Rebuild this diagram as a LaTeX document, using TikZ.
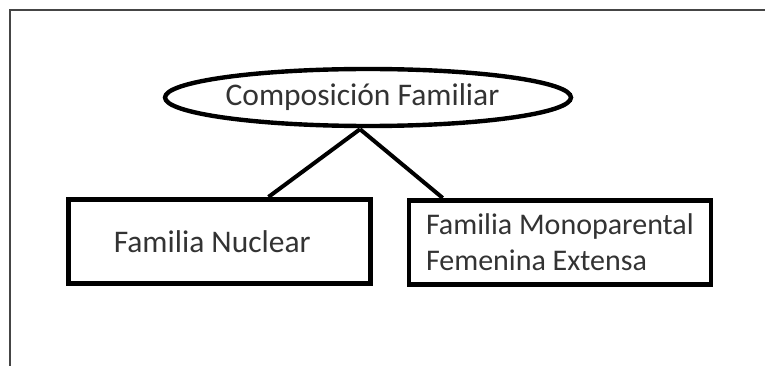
\documentclass[tikz,border=0pt]{standalone}
\usepackage{fontspec}
\setmainfont{Carlito}
\usetikzlibrary{shapes.geometric}
\definecolor{txt}{HTML}{333333}
\definecolor{frame}{HTML}{454545}
\begin{document}
\begin{tikzpicture}[x=1pt,y=-1pt,
  lbl/.style={font=\fontsize{31.5}{36}\selectfont, text=txt},
  boxnode/.style={draw=black, line width=4.6pt, rectangle, minimum height=84pt, inner ysep=0pt, align=flush left},
  link/.style={draw=black, line width=4pt}]
\useasboundingbox[fill=white] (0,0) rectangle (765,366);
% screenshot frame
\coordinate (fc) at (10,10.5);
\coordinate (fr) at (765,10.5);
\coordinate (fb) at (10,366);
\draw[frame, line width=2pt] (fb) -- (fc) -- (fr);
% top ellipse
\node[ellipse, draw=black, line width=4.4pt, minimum width=406pt, minimum height=57pt, inner sep=0pt, lbl] (comp) at (368,97.5) {\hspace*{-11pt}Composición Familiar};
% boxes
\node[boxnode, lbl, text width=212pt, inner xsep=45pt] (nuc) at (219.75,241.25) {Familia Nuclear};
\node[boxnode, lbl, font=\fontsize{30}{36}\selectfont, text width=268pt, inner xsep=17pt] (mono) at (560,242.25) {\mbox{Familia Monoparental}\\\mbox{Femenina Extensa}};
% connectors
\coordinate (apex) at ([xshift=-8pt,yshift=-1pt]comp.south);
\draw[link] (apex) -- ([xshift=202pt]nuc.north west);
\draw[link] (apex) -- ([xshift=36pt]mono.north west);
\end{tikzpicture}
\end{document}
